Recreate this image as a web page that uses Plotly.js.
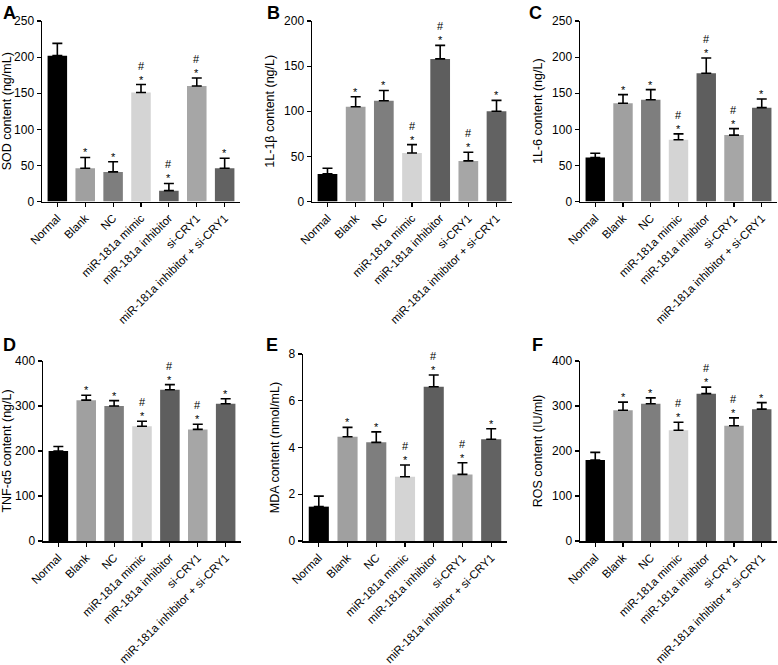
<!DOCTYPE html>
<html>
<head>
<meta charset="utf-8">
<script src="https://cdn.plot.ly/plotly-3.0.1.min.js"></script>
<style>html,body{margin:0;padding:0;background:#fff;}#chart{width:778px;height:665px;}</style>
</head>
<body>
<div id="chart"></div>
<script>
var categories = ["Normal","Blank","NC","miR-181a mimic","miR-181a inhibitor","si-CRY1","miR-181a inhibitor + si-CRY1"];
var barColors = ["#000000","#a0a0a0","#7e7e7e","#d4d4d4","#5e5e5e","#a6a6a6","#626262"];
var sigMarks = ["", "*", "*", "#<br>*", "#<br>*", "#<br>*", "*"];

var sodValues = [202, 46, 41, 151, 15, 160, 46];
var sodErrors = [17, 15, 14, 11, 10, 11, 14];
var il1bValues = [30.6, 105, 111.6, 53.8, 158, 45, 100];
var il1bErrors = [6.2, 11, 11.4, 9.2, 15, 9.5, 12];
var il6Values = [60.8, 136, 141, 85.6, 177.7, 92, 130];
var il6Errors = [6, 12, 14, 8, 21, 9, 12];
var tnfValues = [200, 313, 300, 255, 336, 248, 305];
var tnfErrors = [10, 11, 12, 11, 11.5, 11.5, 11];
var mdaValues = [1.47, 4.46, 4.22, 2.75, 6.6, 2.85, 4.35];
var mdaErrors = [0.45, 0.4, 0.45, 0.5, 0.5, 0.5, 0.45];
var rosValues = [180, 290.6, 305, 246, 327.5, 256, 293];
var rosErrors = [17, 18, 13, 18, 14.5, 17.6, 14.6];

var panelLetters = ["A","B","C","D","E","F"];
var yTitles = ["SOD content (ng/mL)","1L-1β content (ng/L)","1L-6 content (ng/L)","TNF-α5 content (ng/L)","MDA content (nmol/mL)","ROS content (IU/ml)"];
var yMax = [250, 200, 250, 400, 8, 400];
var yStep = [50, 50, 50, 100, 2, 100];

var panels = [
  {v: sodValues, e: sodErrors},
  {v: il1bValues, e: il1bErrors},
  {v: il6Values, e: il6Errors},
  {v: tnfValues, e: tnfErrors},
  {v: mdaValues, e: mdaErrors},
  {v: rosValues, e: rosErrors}
];

var W = 778, H = 665;
// pixel boxes [left, right, top, bottom]
var boxes = [
  [42, 240, 21, 201.5],
  [312, 512, 21, 201.5],
  [580, 777, 21, 201.5],
  [43, 241, 361, 541],
  [303, 507, 354, 541],
  [580, 777, 361, 541]
];
var letterPos = [[2,2],[266,2],[528,2],[2,334],[265,334],[531,334]];

var FONT = "Liberation Sans, Arial, sans-serif";
var traces = [];
var layout = {
  width: W, height: H,
  margin: {l:0, r:0, t:0, b:0},
  paper_bgcolor: "#ffffff", plot_bgcolor: "#ffffff",
  showlegend: false,
  font: {family: FONT, color: "#000", size: 12},
  annotations: []
};

panels.forEach(function(p, i) {
  var n = i + 1;
  var xa = n === 1 ? "x" : "x" + n;
  var ya = n === 1 ? "y" : "y" + n;
  traces.push({
    type: "bar",
    x: categories,
    y: p.v,
    xaxis: xa, yaxis: ya,
    width: 0.7,
    marker: {color: barColors, line: {width: 0}},
    error_y: {type: "data", array: p.e, arrayminus: p.v.map(function(){return 0;}), symmetric: false,
              color: "#000", thickness: 1.6, width: 5},
    hoverinfo: "none"
  });
  var b = boxes[i];
  layout["xaxis" + (n === 1 ? "" : n)] = {
    domain: [b[0]/W, b[1]/W],
    anchor: ya,
    range: [-0.55, 6.55],
    showline: true, linecolor: "#000", linewidth: 1.5,
    ticks: "outside", ticklen: 4, tickwidth: 1.2, tickcolor: "#000",
    tickangle: -45,
    tickfont: {family: FONT, size: 11.5, color: "#000"},
    showgrid: false, zeroline: false, fixedrange: true
  };
  layout["yaxis" + (n === 1 ? "" : n)] = {
    domain: [1 - b[3]/H, 1 - b[2]/H],
    anchor: xa,
    range: [0, yMax[i]],
    dtick: yStep[i], tick0: 0,
    showline: true, linecolor: "#000", linewidth: 1.5,
    ticks: "outside", ticklen: 4, tickwidth: 1.2, tickcolor: "#000",
    tickfont: {family: FONT, size: 12, color: "#000"},
    title: {text: yTitles[i], font: {family: FONT, size: 12.5, color: "#000"}, standoff: 6},
    showgrid: false, zeroline: false, fixedrange: true
  };
  for (var k = 0; k < categories.length; k++) {
    if (!sigMarks[k]) continue;
    layout.annotations.push({
      xref: xa, yref: ya,
      x: categories[k], y: p.v[k] + p.e[k],
      text: sigMarks[k], showarrow: false,
      yanchor: "bottom", xanchor: "center", yshift: -2,
      font: {family: FONT, size: 11, color: "#000"},
      borderpad: 0
    });
  }
  layout.annotations.push({
    xref: "paper", yref: "paper",
    x: letterPos[i][0]/W, y: 1 - letterPos[i][1]/H,
    xanchor: "left", yanchor: "top",
    text: "<b>" + panelLetters[i] + "</b>", showarrow: false,
    font: {family: FONT, size: 18, color: "#000"},
    borderpad: 0
  });
});

Plotly.newPlot("chart", traces, layout, {displayModeBar: false, staticPlot: true});
</script>
</body>
</html>
